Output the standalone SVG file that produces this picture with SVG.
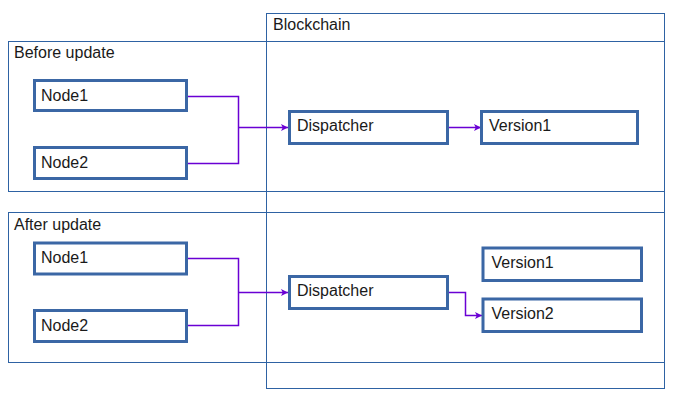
<svg xmlns="http://www.w3.org/2000/svg" width="681" height="404" viewBox="0 0 681 404">
<defs>
<style>
.frame{fill:none;stroke:#2e62a3;stroke-width:1}
.node{fill:#ffffff;stroke:#3b67a5;stroke-width:3}
.lbl{font-family:"Liberation Sans",Arial,sans-serif;font-size:16px;fill:#1a1a1a}
.conn{fill:none;stroke:#6a00d4;stroke-width:1.5}
</style>
<marker id="arr" viewBox="0 0 10 10" refX="10" refY="5" markerWidth="7" markerHeight="7" markerUnits="userSpaceOnUse" orient="auto">
<path d="M0,0 L10,5 L0,10 L2.5,5 Z" fill="#6a00d4"/>
</marker>
</defs>
<rect width="681" height="404" fill="#ffffff"/>
<g id="frame-before">
<rect class="frame" x="8.5" y="41.5" width="656" height="150"/>
<text class="lbl" x="14" y="58">Before update</text>
</g>
<g id="frame-after">
<rect class="frame" x="8.5" y="212.5" width="656" height="150"/>
<text class="lbl" x="14" y="230">After update</text>
</g>
<g id="frame-blockchain">
<rect class="frame" x="266.5" y="13.5" width="398" height="375"/>
<line class="frame" x1="266.5" y1="41.5" x2="664.5" y2="41.5"/>
<text class="lbl" x="273" y="30">Blockchain</text>
</g>
<g id="connectors">
<polyline class="conn" points="187,96.5 238.5,96.5 238.5,163.5 187,163.5"/>
<line class="conn" x1="238.5" y1="127.5" x2="288" y2="127.5" marker-end="url(#arr)"/>
<line class="conn" x1="448" y1="127.5" x2="481" y2="127.5" marker-end="url(#arr)"/>
<polyline class="conn" points="187,258.5 238.5,258.5 238.5,325.5 187,325.5"/>
<line class="conn" x1="238.5" y1="292.5" x2="288" y2="292.5" marker-end="url(#arr)"/>
<polyline class="conn" points="448,292.5 465.5,292.5 465.5,315.5 482,315.5" marker-end="url(#arr)"/>
</g>
<g id="b-node1">
<rect class="node" x="34.5" y="80.5" width="152" height="30"/>
<text class="lbl" x="41" y="101">Node1</text>
</g>
<g id="b-node2">
<rect class="node" x="34.5" y="147.5" width="152" height="31"/>
<text class="lbl" x="41" y="168">Node2</text>
</g>
<g id="b-dispatcher">
<rect class="node" x="289.5" y="111.5" width="158" height="32"/>
<text class="lbl" x="297" y="131">Dispatcher</text>
</g>
<g id="b-version1">
<rect class="node" x="481.5" y="111.5" width="156" height="32"/>
<text class="lbl" x="489" y="131">Version1</text>
</g>
<g id="a-node1">
<rect class="node" x="34.5" y="243" width="152" height="31"/>
<text class="lbl" x="41" y="263">Node1</text>
</g>
<g id="a-node2">
<rect class="node" x="34.5" y="310.5" width="152" height="31"/>
<text class="lbl" x="41" y="331">Node2</text>
</g>
<g id="a-dispatcher">
<rect class="node" x="289.5" y="276.5" width="158" height="32"/>
<text class="lbl" x="297" y="296">Dispatcher</text>
</g>
<g id="a-version1">
<rect class="node" x="483" y="248" width="158.5" height="32.5"/>
<text class="lbl" x="491.5" y="268">Version1</text>
</g>
<g id="a-version2">
<rect class="node" x="483" y="299" width="158.5" height="32.5"/>
<text class="lbl" x="491.5" y="319">Version2</text>
</g>
</svg>
